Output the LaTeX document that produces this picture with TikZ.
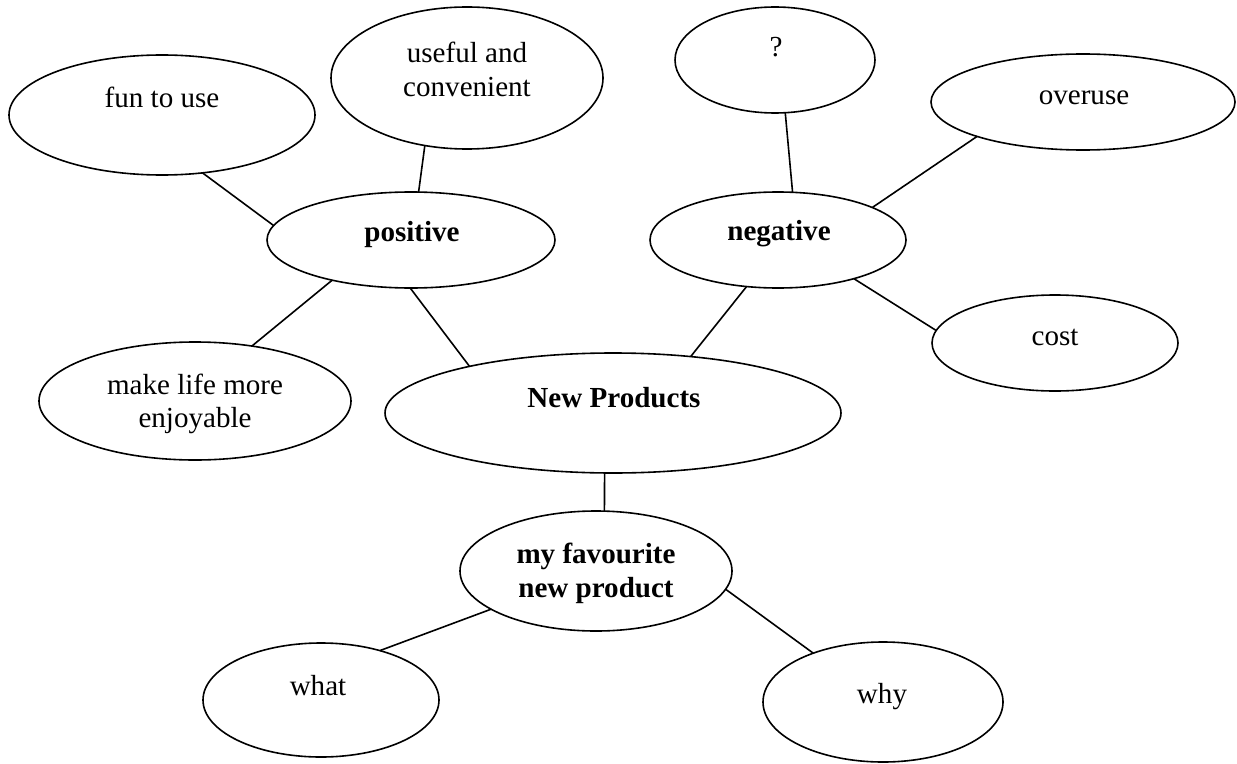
\documentclass[tikz,border=0pt]{standalone}
\usepackage{fontspec}
\setmainfont{Liberation Serif}
\usetikzlibrary{shapes.geometric}
\tikzset{
  bub/.style 2 args={ellipse, draw=black, line width=1.2pt, inner sep=0pt, outer sep=0pt,
     minimum width=#1*0.75pt, minimum height=#2*0.75pt},
  txt/.style={anchor=base, inner sep=0pt, font=\fontsize{21.8}{26}\selectfont},
  btxt/.style={txt, font=\fontsize{21.8}{26}\selectfont\bfseries},
  link/.style={draw=black, line width=1.2pt}
}
\begin{document}
\begin{tikzpicture}[x=0.75pt, y=-0.75pt]
\useasboundingbox (0,0) rectangle (1237,763);
% ellipses
\node[bub={306}{120}] (fun) at (162,115) {};
\node[bub={272}{142}] (useful) at (467,78) {};
\node[bub={200}{106}] (q) at (775,60) {};
\node[bub={304}{96}] (over) at (1083,102) {};
\node[bub={288}{96}] (pos) at (411,240) {};
\node[bub={256}{96}] (neg) at (778,240) {};
\node[bub={246}{96}] (cost) at (1055,343) {};
\node[bub={312}{118}] (make) at (195,401) {};
\node[bub={456}{120}] (new) at (613,413) {};
\node[bub={272}{120}] (fav) at (596,571) {};
\node[bub={236}{114}] (what) at (321,700) {};
\node[bub={240}{120}] (why) at (883,702) {};
% texts
\node[txt] (tfun) at (162,108) {fun to use};
\node[txt] (tuse1) at (467,63) {useful and};
\node[txt] (tuse2) at (467,97) {convenient};
\node[txt] (tq) at (776,57) {?};
\node[txt] (tover) at (1084,105) {overuse};
\node[btxt] (tpos) at (412,241) {positive};
\node[btxt] (tneg) at (779,240) {negative};
\node[txt] (tcost) at (1055,345) {cost};
\node[txt] (tmake1) at (195,394) {make life more};
\node[txt] (tmake2) at (195,427) {enjoyable};
\node[btxt] (tnew) at (614,407) {New Products};
\node[btxt] (tfav1) at (596,563) {my favourite};
\node[btxt] (tfav2) at (596,597) {new product};
\node[txt] (twhat) at (318,695) {what};
\node[txt] (twhy) at (882,703) {why};
% connectors
\draw[link] (pos.174.7) -- (fun.-55.4);
\draw[link] (pos.81.7) -- (useful.-122.5);
\draw[link] (pos.-153.7) -- (make.44);
\draw[link] (pos.-91.2) -- (new.162.3);
\draw[link] (neg.-124.2) -- (new.36.4);
\draw[link] (neg.73.7) -- (q.-79.3);
\draw[link] (neg.19.5) -- (over.-162.3);
\draw[link] (neg.-27.1) -- (cost.174.8);
\draw[link] (new.-98.5) -- (fav.82.4);
\draw[link] (fav.-160.8) -- (what.40.3);
\draw[link] (fav.-8.7) -- (why.145);
\end{tikzpicture}
\end{document}
